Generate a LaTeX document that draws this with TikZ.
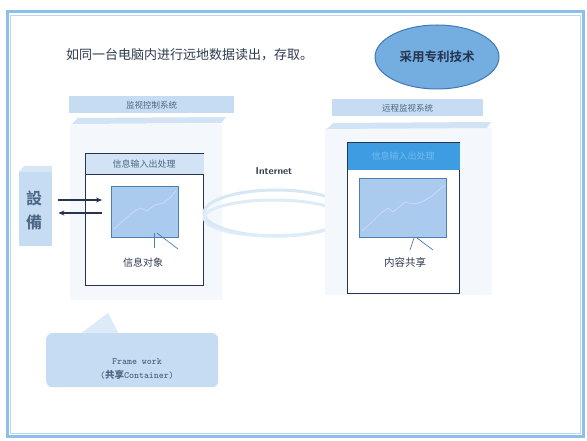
\documentclass[tikz,border=0pt]{standalone}
\usepackage{fontspec}
\newfontfamily\cjk{Noto Sans CJK SC}
\newfontfamily\cjkb{Noto Sans CJK SC Bold}
\usetikzlibrary{arrows.meta,shapes.geometric}
\definecolor{frameblue}{HTML}{8CC0EA}
\definecolor{bandblue}{HTML}{C6DCF2}
\definecolor{paleblue}{HTML}{F4F8FC}
\definecolor{navy}{HTML}{26344F}
\definecolor{screenblue}{HTML}{AACBEE}
\definecolor{screenedge}{HTML}{4F7FB0}
\definecolor{brightblue}{HTML}{3E9DE2}
\definecolor{ovalblue}{HTML}{74AEE0}
\definecolor{ovaledge}{HTML}{3F78B8}
\definecolor{textdark}{HTML}{2F3B4D}
\definecolor{textblue}{HTML}{4A6684}
\definecolor{ringblue}{HTML}{D6E7F6}
\tikzset{
  band/.style={fill=bandblue,draw=none},
  strip/.style={fill=bandblue!80,draw=none},
  sysbox/.style={fill=paleblue,draw=none},
  win/.style={draw=navy,line width=1.1pt,fill=white},
  scr/.style={draw=screenedge,line width=0.8pt,fill=screenblue},
  chart/.style={draw=screenblue!50!white!70!blue!40,line width=0.7pt},
  tail/.style={draw=screenedge,line width=0.7pt},
  arr/.style={draw=navy,line width=1.1pt,-{Stealth[length=6pt,width=5pt]}},
  ring/.style={draw=ringblue,line width=3pt},
  smalltxt/.style={font=\cjk\fontsize{8.5}{10}\selectfont,text=textblue},
}
\begin{document}
\begin{tikzpicture}[x=1pt,y=-1pt]
\useasboundingbox (0,0) rectangle (587,441);
\fill[white] (0,0) rectangle (587,441);
% outer frame
\draw[frameblue,line width=3pt] (7,12) rectangle (583,436);
\draw[frameblue!60,line width=0.8pt] (10,15) rectangle (580,433);
% title
\node[anchor=west,font=\cjk\fontsize{13}{15}\selectfont,text=textdark,inner sep=0] (title) at (66,55) {如同一台电脑内进行远地数据读出，存取。};
% patent oval
\node[ellipse,draw=ovaledge,line width=1pt,fill=ovalblue,minimum width=124pt,minimum height=64pt,font=\cjkb\fontsize{12.5}{14}\selectfont,text=navy] (oval) at (437,57) {采用专利技术};
% left system
\fill[sysbox] (70,124) rectangle (222,300);
\node[band,minimum width=165pt,minimum height=17pt,smalltxt] (lhead) at (151.5,105) {监视控制系统};
\fill[strip] (72,124) -- (78,118) -- (226,117) -- (221,123) -- cycle;
% left window
\node[win,minimum width=118pt,minimum height=132pt,anchor=north west] (lwin) at (85,153) {};
\fill[bandblue!80] ([shift={(0.6,0.6)}]lwin.north west) rectangle ([shift={(-0.6,22)}]lwin.north east);
\draw[navy,line width=1pt] ([shift={(0,22)}]lwin.north west) -- ([shift={(0,22)}]lwin.north east);
\node[smalltxt,font=\cjk\fontsize{9}{10}\selectfont] (ltitle) at (144,164.5) {信息输入出处理};
\node[scr,minimum width=67pt,minimum height=51pt,anchor=north west] (lscr) at (111,186) {};
\draw[chart] (114,229) -- (124,220) -- (132,213) -- (140,208) -- (147,211) -- (155,205) -- (163,203) -- (170,198) -- (176,191);
\draw[tail] (154,233) -- (154,248);
\draw[tail] (157,233) -- (178,249);
\node[font=\cjk\fontsize{10}{12}\selectfont,text=textdark] (lobj) at (143,263) {信息对象};
% device block
\fill[bandblue!70] (19,172) -- (24,166) -- (52,166) -- (52,172) -- cycle;
\node[fill=bandblue,minimum width=33pt,minimum height=74pt,anchor=north west,inner sep=0] (dev) at (19,172) {};
\node[font=\cjkb\fontsize{16}{18}\selectfont,text=textblue] (dev1) at (34,198) {設};
\node[font=\cjkb\fontsize{16}{18}\selectfont,text=textblue] (dev2) at (34,222) {備};
\coordinate (ain) at (102,200);
\coordinate (aout) at (102,213);
\draw[arr] (dev.east |- ain) ++(6,0) -- (ain);
\draw[arr] (aout) -- ([xshift=6pt]dev.east |- aout);
% internet
\node[font=\sffamily\bfseries\fontsize{10}{12}\selectfont,text=textdark] (inet) at (274,171) {Internet};
\draw[ring] (276,213) ellipse (72pt and 23pt);
\draw[ring,draw=ringblue!80] (274,218) ellipse (70pt and 18pt);
% right system
\fill[sysbox] (325,128) rectangle (492,295);
\node[band,minimum width=151pt,minimum height=17pt,smalltxt] (rhead) at (407.5,108) {远程监视系统};
\fill[strip] (327,129) -- (333,123) -- (491,122) -- (487,128) -- cycle;
\node[win,minimum width=112pt,minimum height=151pt,anchor=north west] (rwin) at (347,142) {};
\fill[brightblue] ([shift={(0.6,0.6)}]rwin.north west) rectangle ([shift={(-0.6,28)}]rwin.north east);
\node[font=\cjk\fontsize{9}{10}\selectfont,text=brightblue!70!white] (rtitle) at (403,156) {信息输入出处理};
\node[scr,minimum width=87pt,minimum height=59pt,anchor=north west] (rscr) at (359,178) {};
\draw[chart] (362,231) -- (372,222) -- (381,213) -- (388,208) -- (393,212) -- (399,207) -- (405,202) -- (413,204) -- (422,202) -- (432,196) -- (445,185);
\draw[tail] (414,238) -- (410,250);
\draw[tail] (417,238) -- (433,250);
\node[font=\cjk\fontsize{10.5}{12}\selectfont,text=textdark] (rshare) at (405,262) {内容共享};
% framework
\fill[bandblue!60] (80,334) -- (108,313) -- (119,334) -- cycle;
\node[fill=bandblue,rounded corners=6pt,minimum width=172pt,minimum height=54pt,anchor=north west,inner sep=0] (fw) at (46,333) {};
\node[font=\ttfamily\bfseries\fontsize{9.5}{14}\selectfont,text=textblue,align=center] (fwtxt) at (137,369.5) {Frame work\\({\cjk 共享}Container)};
\end{tikzpicture}
\end{document}
